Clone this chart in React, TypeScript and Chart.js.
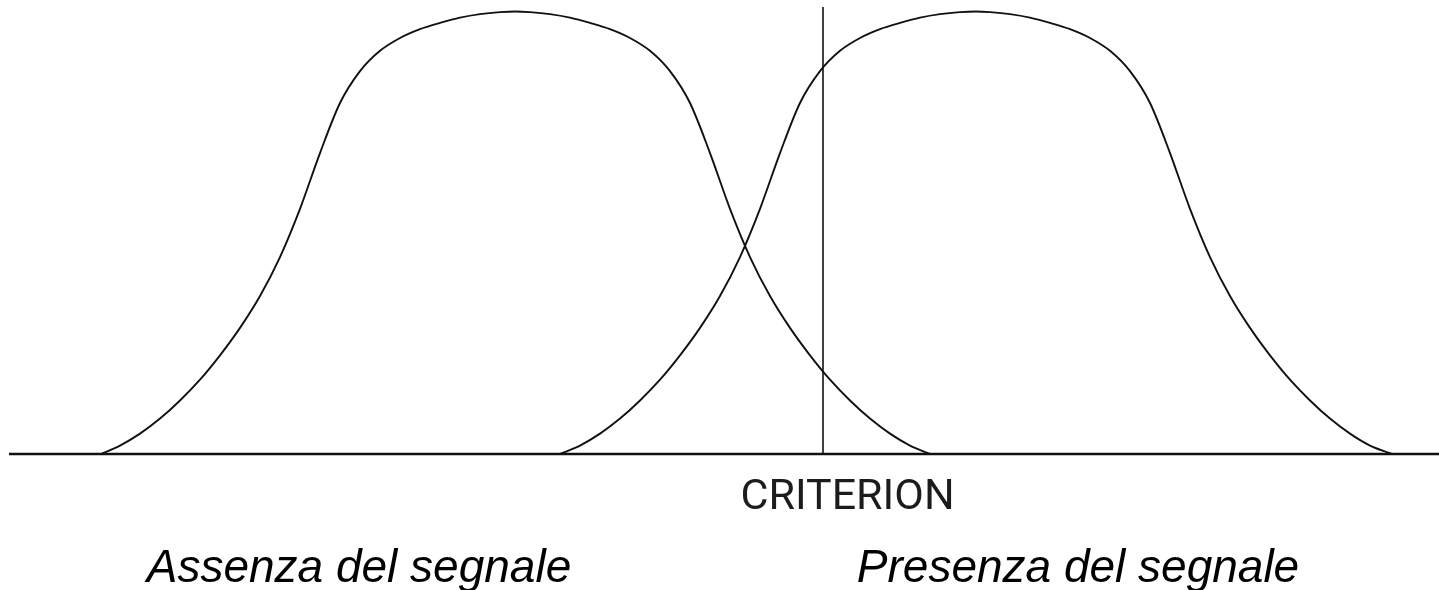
import React, { useEffect, useRef } from "react";
import { Chart, registerables } from "chart.js";

Chart.register(...registerables);

// Stimulus axis (arbitrary units) and density (0..100, peak = 100)
const noiseX = [10.1, 12, 14, 16, 18, 20, 22, 24, 26, 28, 30, 32, 34, 36, 38, 40, 42, 44, 46, 48, 50, 51.5, 53, 55, 57, 59, 61, 63, 65, 67, 69, 71, 73, 75, 77, 79, 81, 83, 85, 87, 89, 91, 93];
const noiseY = [0, 1.9, 4.6, 8.0, 12.1, 16.8, 22.3, 28.5, 35.7, 44.5, 55.4, 68.0, 79.3, 86.5, 91.1, 94.0, 96.0, 97.4, 98.6, 99.4, 99.85, 100, 99.85, 99.4, 98.6, 97.4, 96.0, 94.0, 91.1, 86.5, 79.3, 68.0, 55.4, 44.5, 35.7, 28.5, 22.3, 16.8, 12.1, 8.0, 4.6, 1.9, 0];

const signalX = [56.0, 58, 60, 62, 64, 66, 68, 70, 72, 74, 76, 78, 80, 82, 84, 86, 88, 90, 92, 94, 96, 97.6, 99, 101, 103, 105, 107, 109, 111, 113, 115, 117, 119, 121, 123, 125, 127, 129, 131, 133, 135, 137, 139.2];
const signalY = [0, 1.9, 4.6, 8.0, 12.1, 16.8, 22.3, 28.5, 35.7, 44.5, 55.4, 68.0, 79.3, 86.5, 91.1, 94.0, 96.0, 97.4, 98.6, 99.4, 99.85, 100, 99.85, 99.4, 98.6, 97.4, 96.0, 94.0, 91.1, 86.5, 79.3, 68.0, 55.4, 44.5, 35.7, 28.5, 22.3, 16.8, 12.1, 8.0, 4.6, 1.9, 0];

const axisRange = [0.9, 143.9];
const criterionValue = 82.3;
const criterionRange = [0, 101];

const criterionLabel = "CRITERION";
const categoryLabels = ["Assenza del segnale", "Presenza del segnale"];
const categoryCenters = [35.9, 107.8];

const INK = "#111111";

const zip = (xs: number[], ys: number[]) => xs.map((x, i) => ({ x, y: ys[i] }));

const textPlugin = {
  id: "sdtLabels",
  afterDraw(chart: any) {
    const { ctx, scales } = chart;
    const xs = scales.x;
    const ys = scales.y;
    const base = ys.getPixelForValue(0);
    ctx.save();
    ctx.fillStyle = "#1c1c1c";
    ctx.textAlign = "center";
    ctx.textBaseline = "alphabetic";
    ctx.font = "43px Roboto";
    ctx.fillText(criterionLabel, xs.getPixelForValue(criterionValue + 2.45), base + 55);
    ctx.fillStyle = "#000000";
    ctx.font = 'italic 46px "Liberation Sans", Arial, sans-serif';
    categoryLabels.forEach((t, i) => {
      ctx.fillText(t, xs.getPixelForValue(categoryCenters[i]), base + 128);
    });
    ctx.restore();
  },
};

export default function App() {
  const ref = useRef<HTMLCanvasElement | null>(null);
  useEffect(() => {
    document.body.style.margin = "0";
    const canvas = ref.current;
    if (!canvas) return;
    const curve = (label: string, data: any[]) =>
      ({
        label,
        data,
        borderColor: INK,
        borderWidth: 1.9,
        pointRadius: 0,
        cubicInterpolationMode: "monotone",
        clip: false,
      }) as any;
    const chart = new Chart(canvas, {
      type: "line",
      data: {
        datasets: [
          {
            label: "baseline",
            data: [
              { x: axisRange[0], y: 0 },
              { x: axisRange[1], y: 0 },
            ],
            borderColor: INK,
            borderWidth: 2.6,
            pointRadius: 0,
            tension: 0,
            clip: false,
          } as any,
          {
            label: "criterion",
            data: [
              { x: criterionValue, y: criterionRange[0] },
              { x: criterionValue, y: criterionRange[1] },
            ],
            borderColor: INK,
            borderWidth: 1.6,
            pointRadius: 0,
            tension: 0,
            clip: false,
          } as any,
          curve(categoryLabels[0], zip(noiseX, noiseY)),
          curve(categoryLabels[1], zip(signalX, signalY)),
        ],
      },
      options: {
        animation: false,
        responsive: false,
        maintainAspectRatio: false,
        layout: { padding: { top: 7, bottom: 136, left: 0, right: 0 } },
        plugins: { legend: { display: false }, tooltip: { enabled: false }, title: { display: false } },
        scales: {
          x: { type: "linear", min: 0, max: 143.9, display: false },
          y: { type: "linear", min: 0, max: 101, display: false },
        },
        events: [],
      },
      plugins: [textPlugin],
    });
    return () => chart.destroy();
  }, []);
  return (
    <div style={{ position: "absolute", left: 0, top: 0, width: 1439, height: 590, background: "#ffffff" }}>
      <canvas ref={ref} width={1439} height={590} style={{ width: 1439, height: 590, display: "block" }} />
    </div>
  );
}
